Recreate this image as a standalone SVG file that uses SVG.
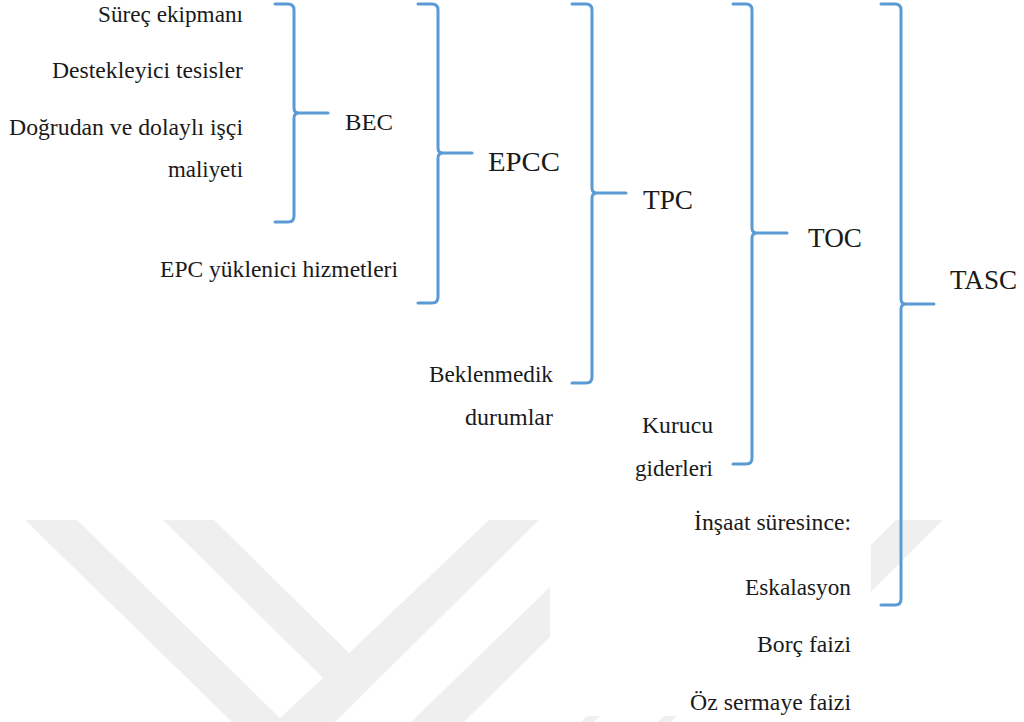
<svg xmlns="http://www.w3.org/2000/svg" width="1024" height="722" viewBox="0 0 1024 722">
<style>
.wm{fill:#efefef;stroke:none}
.br{fill:none;stroke:#5b9bd5;stroke-width:3;stroke-linecap:round;stroke-linejoin:round}
.lbl{font-family:'Liberation Serif',serif;font-size:23px;fill:#1a1a1a}
.abbr{font-family:'Liberation Serif',serif;font-size:28px;fill:#1a1a1a}
</style>
<rect width="1024" height="722" fill="#ffffff"/>
<g id="watermark">
<polygon class="wm" points="25,520 77,520 280,718 323,678 163,520 214,520 349,653 489,520 539,520 335,722 232,722"/>
<polygon class="wm" points="550,587 550,637 464,722 411,722"/>
<polygon class="wm" points="896,520 943,520 871,592 871,545"/>
<rect x="550" y="490" width="321" height="226" fill="#ffffff"/>
<polygon class="wm" points="587,716 600,716 594,722 581,722"/>
<polygon class="wm" points="664,716 677,716 671,722 658,722"/>
</g>
<g id="connectors">
<path id="brace-bec" class="br" d="M275,4 L288,4 Q294,4 294,10 L294,108 Q294,113 299,113 L328,113 M299,113 Q294,113 294,118 L294,216 Q294,222 288,222 L275,222"/>
<path id="brace-epcc" class="br" d="M418,4 L432,4 Q438,4 438,10 L438,148 Q438,153 443,153 L472,153 M443,153 Q438,153 438,158 L438,297 Q438,303 432,303 L418,303"/>
<path id="brace-tpc" class="br" d="M572,4 L586,4 Q592,4 592,10 L592,188 Q592,193 597,193 L626,193 M597,193 Q592,193 592,198 L592,377 Q592,383 586,383 L572,383"/>
<path id="brace-toc" class="br" d="M733,4 L746,4 Q752,4 752,10 L752,228 Q752,233 757,233 L787,233 M757,233 Q752,233 752,238 L752,458 Q752,464 746,464 L733,464"/>
<path id="brace-tasc" class="br" d="M881,4 L895,4 Q901,4 901,10 L901,299 Q901,304 906,304 L934,304 M906,304 Q901,304 901,309 L901,599 Q901,605 895,605 L881,605"/>
</g>
<g id="node-surec"><text class="lbl" x="98" y="22" textLength="145" lengthAdjust="spacingAndGlyphs">Süreç ekipmanı</text></g>
<g id="node-destek"><text class="lbl" x="52" y="78" textLength="191" lengthAdjust="spacingAndGlyphs">Destekleyici tesisler</text></g>
<g id="node-iscilik">
<text class="lbl" x="9" y="135" textLength="234" lengthAdjust="spacingAndGlyphs">Doğrudan ve dolaylı işçi</text>
<text class="lbl" x="168" y="177" textLength="75" lengthAdjust="spacingAndGlyphs">maliyeti</text>
</g>
<g id="node-epc"><text class="lbl" x="160" y="277" textLength="238" lengthAdjust="spacingAndGlyphs">EPC yüklenici hizmetleri</text></g>
<g id="node-bec"><text class="abbr" x="345" y="130" style="font-size:24px" textLength="48" lengthAdjust="spacingAndGlyphs">BEC</text></g>
<g id="node-epcc"><text class="abbr" x="488" y="171" textLength="72" lengthAdjust="spacingAndGlyphs">EPCC</text></g>
<g id="node-tpc"><text class="abbr" x="643" y="209" textLength="50" lengthAdjust="spacingAndGlyphs">TPC</text></g>
<g id="node-toc"><text class="abbr" x="808" y="247" textLength="54" lengthAdjust="spacingAndGlyphs">TOC</text></g>
<g id="node-tasc"><text class="abbr" x="950" y="289" textLength="67" lengthAdjust="spacingAndGlyphs">TASC</text></g>
<g id="node-beklenmedik">
<text class="lbl" x="429" y="382" textLength="124" lengthAdjust="spacingAndGlyphs">Beklenmedik</text>
<text class="lbl" x="465" y="425" textLength="88" lengthAdjust="spacingAndGlyphs">durumlar</text>
</g>
<g id="node-kurucu">
<text class="lbl" x="642" y="433" textLength="71" lengthAdjust="spacingAndGlyphs">Kurucu</text>
<text class="lbl" x="635" y="476" textLength="78" lengthAdjust="spacingAndGlyphs">giderleri</text>
</g>
<g id="node-insaat">
<text class="lbl" x="694" y="530" textLength="157" lengthAdjust="spacingAndGlyphs">İnşaat süresince:</text>
<text class="lbl" x="745" y="595" textLength="106" lengthAdjust="spacingAndGlyphs">Eskalasyon</text>
</g>
<g id="node-borc"><text class="lbl" x="757" y="652" textLength="94" lengthAdjust="spacingAndGlyphs">Borç faizi</text></g>
<g id="node-ozsermaye"><text class="lbl" x="690" y="710" textLength="161" lengthAdjust="spacingAndGlyphs">Öz sermaye faizi</text></g>
</svg>
